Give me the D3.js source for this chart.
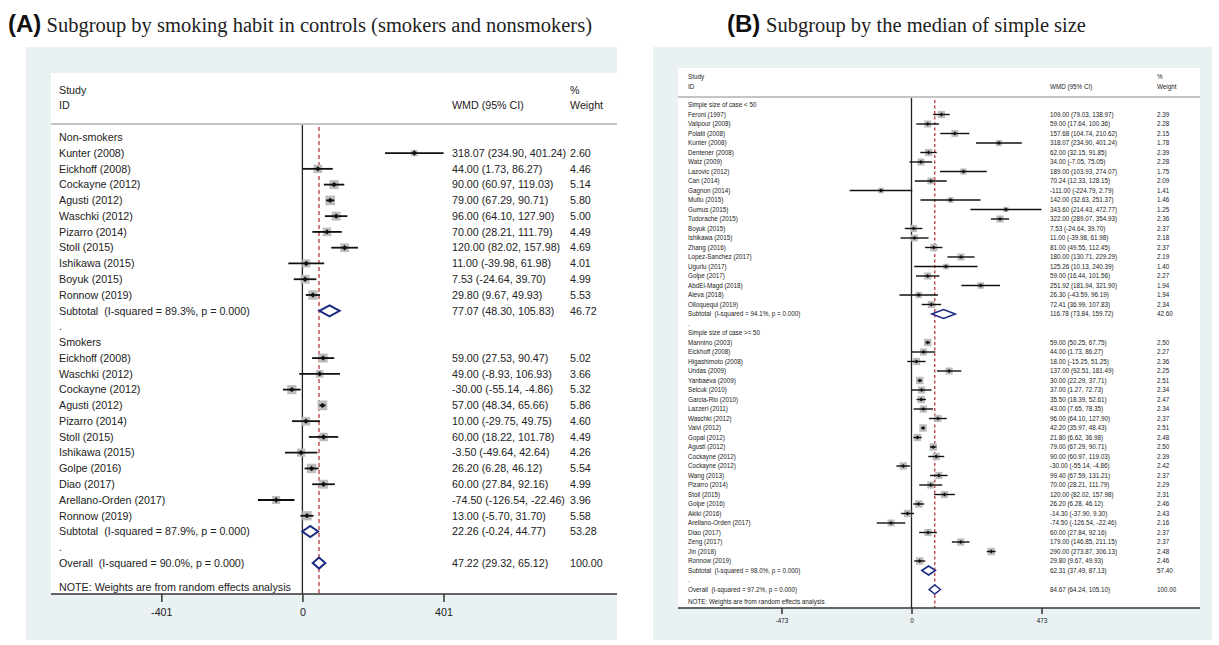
<!DOCTYPE html>
<html><head><meta charset="utf-8">
<script src="https://cdn.jsdelivr.net/npm/d3@7"></script>
<style>body{margin:0;background:#fff} text{white-space:pre}</style>
</head><body><svg id="c" width="1219" height="645"></svg>
<script>
// ---------- Panel A data ----------
const aTitle = "Subgroup by smoking habit in controls (smokers and nonsmokers)";
const aGroups = ["Non-smokers", "Smokers"];
const aNonStudies = ["Kunter (2008)","Eickhoff (2008)","Cockayne (2012)","Agusti (2012)","Waschki (2012)","Pizarro (2014)","Stoll (2015)","Ishikawa (2015)","Boyuk (2015)","Ronnow (2019)"];
const aNonEst = [318.07,44.00,90.00,79.00,96.00,70.00,120.00,11.00,7.53,29.80];
const aNonLo  = [234.90,1.73,60.97,67.29,64.10,28.21,82.02,-39.98,-24.64,9.67];
const aNonHi  = [401.24,86.27,119.03,90.71,127.90,111.79,157.98,61.98,39.70,49.93];
const aNonW   = [2.60,4.46,5.14,5.80,5.00,4.49,4.69,4.01,4.99,5.53];
const aSmkStudies = ["Eickhoff (2008)","Waschki (2012)","Cockayne (2012)","Agusti (2012)","Pizarro (2014)","Stoll (2015)","Ishikawa (2015)","Golpe (2016)","Diao (2017)","Arellano-Orden (2017)","Ronnow (2019)"];
const aSmkEst = [59.00,49.00,-30.00,57.00,10.00,60.00,-3.50,26.20,60.00,-74.50,13.00];
const aSmkLo  = [27.53,-8.93,-55.14,48.34,-29.75,18.22,-49.64,6.28,27.84,-126.54,-5.70];
const aSmkHi  = [90.47,106.93,-4.86,65.66,49.75,101.78,42.64,46.12,92.16,-22.46,31.70];
const aSmkW   = [5.02,3.66,5.32,5.86,4.60,4.49,4.26,5.54,4.99,3.96,5.58];
const aSubLabels = ["Subtotal  (I-squared = 89.3%, p = 0.000)","Subtotal  (I-squared = 87.9%, p = 0.000)"];
const aSubEst = [77.07,22.26];
const aSubLo  = [48.30,-0.24];
const aSubHi  = [105.83,44.77];
const aSubW   = [46.72,53.28];
const aOverallLabel = "Overall  (I-squared = 90.0%, p = 0.000)";
const aOverall = [47.22,29.32,65.12,100.00];
const aTicks = [-401,0,401];

// ---------- Panel B data ----------
const bTitle = "Subgroup by the median of simple size";
const bGroups = ["Simple size of case < 50", "Simple size of case >= 50"];
const bSmallStudies = ["Feroni (1997)","Valipour (2008)","Polatli (2008)","Kunter (2008)","Dentener (2008)","Watz (2009)","Lazovic (2012)","Can (2014)","Gagnon (2014)","Mutlu (2015)","Gumus (2015)","Tudorache (2015)","Boyuk (2015)","Ishikawa (2015)","Zhang (2016)","Lopez-Sanchez (2017)","Ugurlu (2017)","Golpe (2017)","AbdEl-Magd (2018)","Aleva (2018)","Olloquequi (2019)"];
const bSmallEst = [109.00,59.00,157.68,318.07,62.00,34.00,189.00,70.24,-111.00,142.00,343.60,322.00,7.53,11.00,81.00,180.00,125.26,59.00,251.92,26.30,72.41];
const bSmallLo  = [79.03,17.64,104.74,234.90,32.15,-7.05,103.93,12.33,-224.79,32.63,214.43,289.07,-24.64,-39.98,49.55,130.71,10.13,16.44,181.94,-43.59,36.99];
const bSmallHi  = [138.97,100.36,210.62,401.24,91.85,75.05,274.07,128.15,2.79,251.37,472.77,354.93,39.70,61.98,112.45,229.29,240.39,101.56,321.90,96.19,107.83];
const bSmallW   = [2.39,2.28,2.15,1.78,2.39,2.28,1.75,2.09,1.41,1.46,1.25,2.36,2.37,2.18,2.37,2.19,1.40,2.27,1.94,1.94,2.34];
const bLargeStudies = ["Mannino (2003)","Eickhoff (2008)","Higashimoto (2008)","Undas (2009)","Yanbaeva (2009)","Selcuk (2010)","Garcia-Rio (2010)","Lazzeri (2011)","Waschki (2012)","Valvi (2012)","Gopal (2012)","Agusti (2012)","Cockayne (2012)","Cockayne (2012)","Wang (2013)","Pizarro (2014)","Stoll (2015)","Golpe (2016)","Akiki (2016)","Arellano-Orden (2017)","Diao (2017)","Zeng (2017)","Jin (2018)","Ronnow (2019)"];
const bLargeEst = [59.00,44.00,18.00,137.00,30.00,37.00,35.50,43.00,96.00,42.20,21.80,79.00,90.00,-30.00,99.40,70.00,120.00,26.20,-14.30,-74.50,60.00,179.00,290.00,29.80];
const bLargeLo  = [50.25,1.73,-15.25,92.51,22.29,1.27,18.39,7.65,64.10,35.97,6.62,67.29,60.97,-55.14,67.59,28.21,82.02,6.28,-37.90,-126.54,27.84,146.85,273.87,9.67];
const bLargeHi  = [67.75,86.27,51.25,181.49,37.71,72.73,52.61,78.35,127.90,48.43,36.98,90.71,119.03,-4.86,131.21,111.79,157.98,46.12,9.30,-22.46,92.16,211.15,306.13,49.93];
const bLargeW   = [2.50,2.27,2.36,2.25,2.51,2.34,2.47,2.34,2.37,2.51,2.48,2.50,2.39,2.42,2.37,2.29,2.31,2.46,2.43,2.16,2.37,2.37,2.48,2.46];
const bSubLabels = ["Subtotal  (I-squared = 94.1%, p = 0.000)","Subtotal  (I-squared = 98.0%, p = 0.000)"];
const bSubEst = [116.78,62.31];
const bSubLo  = [73.84,37.49];
const bSubHi  = [159.72,87.13];
const bSubW   = [42.60,57.40];
const bOverallLabel = "Overall  (I-squared = 97.2%, p = 0.000)";
const bOverall = [84.67,64.24,105.10,100.00];
const bTicks = [-473,0,473];

const noteText = "NOTE: Weights are from random effects analysis";
const SANS = "'Liberation Sans', Arial, Helvetica, sans-serif";
const SERIF = "'Liberation Serif', 'Times New Roman', serif";

function buildRows(groups, s1, e1, l1, h1, w1, s2, e2, l2, h2, w2, subL, subE, subLo, subHi, subW, ovL, ov){
  const rows = [];
  const sets = [[s1,e1,l1,h1,w1],[s2,e2,l2,h2,w2]];
  sets.forEach((st, gi) => {
    rows.push({type:'head', label:groups[gi]});
    st[0].forEach((n,i) => rows.push({type:'study', label:n, est:st[1][i], lo:st[2][i], hi:st[3][i], w:st[4][i]}));
    rows.push({type:'sub', label:subL[gi], est:subE[gi], lo:subLo[gi], hi:subHi[gi], w:subW[gi]});
    rows.push({type:'dot', label:'.'});
  });
  rows.push({type:'sub', label:ovL, est:ov[0], lo:ov[1], hi:ov[2], w:ov[3]});
  return rows;
}

const fmt = v => v.toFixed(2);
const svg = d3.select('#c');

function drawPanel(cfg, rows, ticks, overallEst){
  const g = svg.append('g');
  g.append('rect').attr('x',cfg.bg[0]).attr('y',cfg.bg[1]).attr('width',cfg.bg[2]-cfg.bg[0]).attr('height',cfg.bg[3]-cfg.bg[1]).attr('fill','#e9f1f3');
  g.append('rect').attr('x',cfg.box[0]).attr('y',cfg.box[1]).attr('width',cfg.box[2]-cfg.box[0]).attr('height',cfg.box[3]-cfg.box[1]).attr('fill','#ffffff');
  const x = d3.scaleLinear().domain(cfg.domain).range(cfg.range);
  const y = i => cfg.row0 + cfg.rowH * i;
  const T = (tx, ty, s) => g.append('text').attr('x',tx).attr('y',ty).attr('dy','0.35em')
      .attr('font-size',cfg.fs).attr('font-family',SANS).attr('fill','#222').text(s);
  T(cfg.xText, cfg.hy1, 'Study'); T(cfg.xText, cfg.hy2, 'ID');
  T(cfg.xCI, cfg.hy2, 'WMD (95% CI)');
  T(cfg.xW, cfg.hy1, '%'); T(cfg.xW, cfg.hy2, 'Weight');
  g.append('line').attr('x1',cfg.box[0]).attr('x2',cfg.box[2]).attr('y1',cfg.hline).attr('y2',cfg.hline)
    .attr('stroke','#c4c4c4').attr('stroke-width',2);
  g.append('line').attr('x1',x(0)).attr('x2',x(0)).attr('y1',cfg.hline+1).attr('y2',cfg.axisY)
    .attr('stroke','#222').attr('stroke-width',1.3);
  g.append('line').attr('x1',x(overallEst)).attr('x2',x(overallEst)).attr('y1',cfg.hline+3).attr('y2',cfg.axisY)
    .attr('stroke','#b8383c').attr('stroke-width',1.3).attr('stroke-dasharray',cfg.dash);
  rows.forEach((r, i) => {
    const yy = y(i);
    T(cfg.xText, yy, r.label);
    if (r.type === 'study') {
      const s = cfg.k * Math.sqrt(r.w);
      g.append('rect').attr('x',x(r.est)-s/2).attr('y',yy-s/2).attr('width',s).attr('height',s).attr('fill','#bdbdbd');
      g.append('line').attr('x1',x(r.lo)).attr('x2',x(r.hi)).attr('y1',yy).attr('y2',yy).attr('stroke','#111').attr('stroke-width',cfg.lw);
      const p = cfg.pt, cx = x(r.est);
      g.append('path').attr('d',`M${cx-p},${yy}L${cx},${yy-p}L${cx+p},${yy}L${cx},${yy+p}Z`).attr('fill','#111');
    }
    if (r.type === 'sub') {
      const h = cfg.dh;
      g.append('path').attr('d',`M${x(r.lo)},${yy}L${x(r.est)},${yy-h}L${x(r.hi)},${yy}L${x(r.est)},${yy+h}Z`)
        .attr('fill','#fff').attr('stroke','#1b2a80').attr('stroke-width',cfg.dw).attr('stroke-linejoin','miter');
    }
    if (r.type === 'study' || r.type === 'sub') {
      T(cfg.xCI, yy, `${fmt(r.est)} (${fmt(r.lo)}, ${fmt(r.hi)})`);
      T(cfg.xW, yy, fmt(r.w));
    }
  });
  T(cfg.xText, cfg.noteY, noteText);
  g.append('line').attr('x1',cfg.box[0]).attr('x2',cfg.box[2]).attr('y1',cfg.axisY).attr('y2',cfg.axisY)
    .attr('stroke','#333').attr('stroke-width',1.5);
  const ax = d3.axisBottom(x).tickValues(ticks).tickSize(cfg.tick).tickPadding(cfg.pad).tickFormat(d => String(d));
  const ag = g.append('g').attr('transform',`translate(0,${cfg.axisY})`).call(ax);
  ag.select('.domain').remove();
  ag.selectAll('line').attr('stroke','#333').attr('stroke-width',1.5);
  ag.selectAll('text').attr('font-size',cfg.fs).attr('font-family',SANS).attr('fill','#222');
}

function drawTitle(x0, x1, letter, txt){
  svg.append('text').attr('x',x0).attr('y',31.5).attr('font-size',24).attr('font-weight','bold')
    .attr('font-family',SANS).attr('fill','#111').text(letter);
  svg.append('text').attr('x',x1).attr('y',31.5).attr('font-size',20.5)
    .attr('font-family',SERIF).attr('fill','#222').text(txt);
}

const rowsA = buildRows(aGroups, aNonStudies, aNonEst, aNonLo, aNonHi, aNonW,
  aSmkStudies, aSmkEst, aSmkLo, aSmkHi, aSmkW, aSubLabels, aSubEst, aSubLo, aSubHi, aSubW, aOverallLabel, aOverall);
const rowsB = buildRows(bGroups, bSmallStudies, bSmallEst, bSmallLo, bSmallHi, bSmallW,
  bLargeStudies, bLargeEst, bLargeLo, bLargeHi, bLargeW, bSubLabels, bSubEst, bSubLo, bSubHi, bSubW, bOverallLabel, bOverall);

drawPanel({bg:[26,47,617,640], box:[51,73,617,594], xText:59, xCI:452, xW:570, hy1:90, hy2:105, hline:124,
  row0:137.3, rowH:15.77, domain:[-401,401], range:[161.3,443.5], axisY:594, fs:10.7, noteY:587,
  k:4.0, lw:1.8, pt:2.7, dh:5.5, dw:2, tick:8, pad:6, dash:'4,3'}, rowsA, aTicks, aOverall[0]);
drawPanel({bg:[653,47,1212,640], box:[678,68,1200,608], xText:688, xCI:1050, xW:1157, hy1:76.7, hy2:86.3, hline:97,
  row0:105, rowH:9.5, domain:[-473,473], range:[781.5,1041.5], axisY:608, fs:6.3, noteY:602,
  k:4.7, lw:1.4, pt:2, dh:4.5, dw:1.5, tick:6, pad:5, dash:'3,2.5'}, rowsB, bTicks, bOverall[0]);

drawTitle(8, 46.5, "(A)", aTitle);
drawTitle(727, 766, "(B)", bTitle);
</script></body></html>
